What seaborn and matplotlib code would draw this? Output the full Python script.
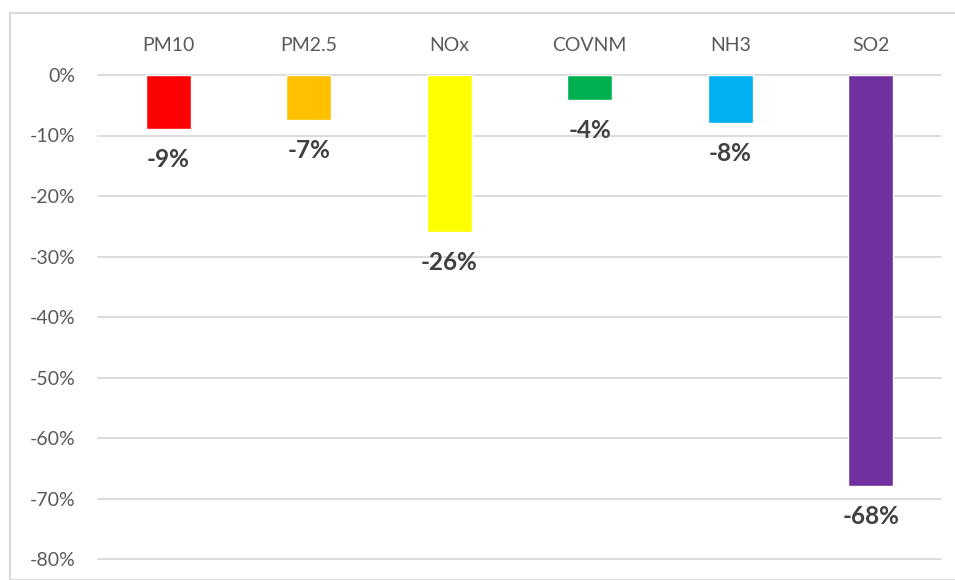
import matplotlib
matplotlib.use("Agg")
import matplotlib.pyplot as plt
import seaborn as sns
import pandas as pd
from matplotlib.patches import Rectangle

categories = ["PM10", "PM2.5", "NOx", "COVNM", "NH3", "SO2"]
values = [-8.9, -7.4, -26.0, -4.1, -8.0, -68.0]
labels = ["-9%", "-7%", "-26%", "-4%", "-8%", "-68%"]
colors = ["#FF0000", "#FFC000", "#FFFF00", "#00B050", "#00B0F0", "#7030A0"]
yticks = [0, -10, -20, -30, -40, -50, -60, -70, -80]
ytick_labels = ["0%", "-10%", "-20%", "-30%", "-40%", "-50%", "-60%", "-70%", "-80%"]

sns.set_style("white")
plt.rcParams["font.family"] = ["Lato", "DejaVu Sans"]

W, H = 955, 580
fig = plt.figure(figsize=(W / 100, H / 100), dpi=100)
ax = fig.add_axes([98 / W, 1 - 559 / H, (941 - 98) / W, (559 - 75) / H])

df = pd.DataFrame({"cat": categories, "val": values})
sns.barplot(data=df, x="cat", y="val", hue="cat", palette=colors, legend=False,
            width=0.32, ax=ax, saturation=1, zorder=3)

ax.set_ylim(-80, 0)
ax.set_yticks(yticks)
ax.set_yticklabels(ytick_labels, fontsize=14, color="#595959")
for y in yticks:
    ax.axhline(y, color="#D9D9D9", lw=1.3, zorder=1, clip_on=False)

ax.xaxis.tick_top()
ax.set_xticks(range(len(categories)))
ax.set_xticklabels(categories, fontsize=14, color="#595959")
ax.tick_params(axis="x", length=0, pad=15)
ax.tick_params(axis="y", length=0, pad=16)
ax.set_xlabel("")
ax.set_ylabel("")
for s in ax.spines.values():
    s.set_visible(False)

for i, (v, lab) in enumerate(zip(values, labels)):
    ax.annotate(lab, (i, v), xytext=(0, -13.5), textcoords="offset points",
                ha="center", va="top", fontsize=17.5, fontweight="bold",
                color="#404040", zorder=4)

fig.patches.append(Rectangle((9.5 / W, 0), 1.2, 1 - 12.5 / H,
                             transform=fig.transFigure, fill=False,
                             edgecolor="#D9D9D9", lw=1.5))

fig.savefig("out.png", dpi=100)
